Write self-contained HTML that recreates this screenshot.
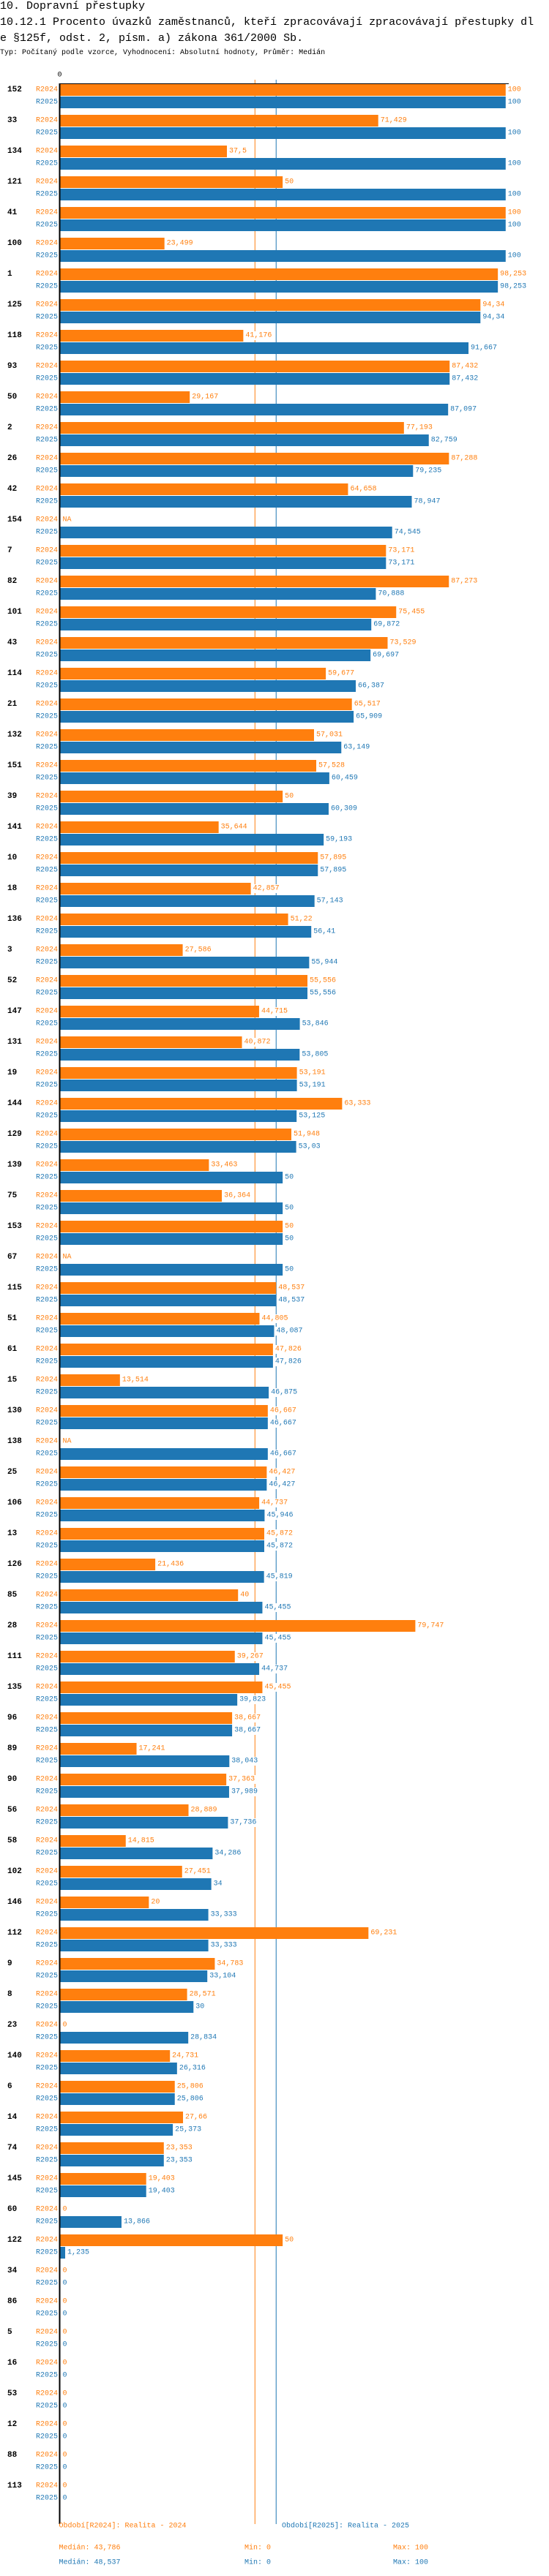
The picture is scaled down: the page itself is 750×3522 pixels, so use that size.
<!DOCTYPE html>
<html><head><meta charset="utf-8">
<style>
html,body{margin:0;padding:0;background:#fff;}
body{width:750px;height:3522px;overflow:hidden;position:relative;font-family:"Liberation Mono",monospace;}
.t{position:absolute;left:0;white-space:nowrap;color:#000;}
svg{position:absolute;left:0;top:0;}
</style></head>
<body>
<div class="t" style="top:0px;font-size:15px;line-height:18px;">10. Dopravní přestupky</div>
<div class="t" style="top:22px;font-size:15px;line-height:18px;">10.12.1 Procento úvazků zaměstnanců, kteří zpracovávají zpracovávají přestupky dl</div>
<div class="t" style="top:44px;font-size:15px;line-height:18px;">e §125f, odst. 2, písm. a) zákona 361/2000 Sb.</div>
<div class="t" style="top:66px;font-size:10px;line-height:14px;">Typ: Počítaný podle vzorce, Vyhodnocení: Absolutní hodnoty, Průměr: Medián</div>
<svg id="chart" width="750" height="3522" xmlns="http://www.w3.org/2000/svg"></svg>
<script>
const categories = ["152","33","134","121","41","100","1","125","118","93","50","2","26","42","154","7","82","101","43","114","21","132","151","39","141","10","18","136","3","52","147","131","19","144","129","139","75","153","67","115","51","61","15","130","138","25","106","13","126","85","28","111","135","96","89","90","56","58","102","146","112","9","8","23","140","6","14","74","145","60","122","34","86","5","16","53","12","88","113"];
const values2024 = [100,71.429,37.5,50,100,23.499,98.253,94.34,41.176,87.432,29.167,77.193,87.288,64.658,null,73.171,87.273,75.455,73.529,59.677,65.517,57.031,57.528,50,35.644,57.895,42.857,51.22,27.586,55.556,44.715,40.872,53.191,63.333,51.948,33.463,36.364,50,null,48.537,44.805,47.826,13.514,46.667,null,46.427,44.737,45.872,21.436,40,79.747,39.267,45.455,38.667,17.241,37.363,28.889,14.815,27.451,20,69.231,34.783,28.571,0,24.731,25.806,27.66,23.353,19.403,0,50,0,0,0,0,0,0,0,0];
const values2025 = [100,100,100,100,100,100,98.253,94.34,91.667,87.432,87.097,82.759,79.235,78.947,74.545,73.171,70.888,69.872,69.697,66.387,65.909,63.149,60.459,60.309,59.193,57.895,57.143,56.41,55.944,55.556,53.846,53.805,53.191,53.125,53.03,50,50,50,50,48.537,48.087,47.826,46.875,46.667,46.667,46.427,45.946,45.872,45.819,45.455,45.455,44.737,39.823,38.667,38.043,37.989,37.736,34.286,34,33.333,33.333,33.104,30,28.834,26.316,25.806,25.373,23.353,19.403,13.866,1.235,0,0,0,0,0,0,0,0];
const seriesNames = ["R2024","R2025"];
const medians = [43.786,48.537];
const mins = [0,0];
const maxs = [100,100];
const legendNames = ["Období[R2024]: Realita - 2024","Období[R2025]: Realita - 2025"];

const NS="http://www.w3.org/2000/svg";
const svg=document.getElementById('chart');
const colors=["#ff7f0e","#1f77b4"];
const X0=81.5, X1=690.8, TOP=115, PITCH=42, BH=16;
const xs=v=>X0+(v/100)*(X1-X0);
const yo=i=>TOP+i*PITCH;
const fmt=v=>v===null?"NA":String(+v.toFixed(3)).replace('.',',');
function mk(tag,attrs,parent){const e=document.createElementNS(NS,tag);for(const k in attrs)e.setAttribute(k,attrs[k]);(parent||svg).appendChild(e);return e;}
function txt(x,y,s,attrs){const e=mk('text',Object.assign({x:x,y:y,'dominant-baseline':'central'},attrs));e.textContent=s;return e;}
const bottom=yo(categories.length-1)+PITCH-9+27;
// median lines
medians.forEach((m,k)=>{
  const l=mk('line',{x1:xs(m),x2:xs(m),y1:109,y2:bottom,stroke:colors[k],'stroke-width':1});
  
  
});
// top axis
const ax=mk('line',{x1:X0,x2:695,y1:114.5,y2:114.5,stroke:'#000','stroke-width':1});


const ay=mk('line',{x1:X0,x2:X0,y1:114,y2:bottom,stroke:'#000','stroke-width':2});


const t0=txt(X0,103,"0",{'font-size':10,'text-anchor':'middle',fill:'#000','font-family':'Liberation Mono, monospace'});


categories.forEach((c,i)=>{
  const g=mk('g',{});
  
  
  const cl=txt(10,yo(i)+BH/2,c,{'font-size':11,'font-weight':'bold',fill:'#000','font-family':'Liberation Mono, monospace'});
  g.appendChild(cl);
  
  
  [values2024[i],values2025[i]].forEach((v,k)=>{
    const y=yo(i)+k*17;
    const sl=txt(79,y+BH/2,seriesNames[k],{'font-size':10,fill:colors[k],'text-anchor':'end','font-family':'Liberation Mono, monospace'});
    g.appendChild(sl);
    
    
    let end=X0+1;
    if(v!==null && v>0){
      const b=mk('rect',{x:X0+1,y:y,width:Math.max(0,xs(v)-X0-1),height:BH,fill:colors[k]},g);
      
      
      end=xs(v);
    }
    const s=fmt(v);
    const bg=mk('rect',{x:end+2,y:y+2,width:s.length*6+2,height:12,fill:'#fff'},g);
    
    
    const vl=txt(end+3,y+BH/2,s,{'font-size':10,fill:colors[k],'font-family':'Liberation Mono, monospace'});
    g.appendChild(vl);
    
    
  });
});
// legend
const lx=[80.5,385];
legendNames.forEach((n,k)=>{
  const e=txt(lx[k],3454,n,{'font-size':10,fill:colors[k],'font-family':'Liberation Mono, monospace'});
  
  
  const y=3484+k*20;
  const a=txt(80.5,y,"Medián: "+fmt(medians[k]),{'font-size':10,fill:colors[k],'font-family':'Liberation Mono, monospace'});
  
  
  const b=txt(334,y,"Min: "+fmt(mins[k]),{'font-size':10,fill:colors[k],'font-family':'Liberation Mono, monospace'});
  
  
  const d=txt(537,y,"Max: "+fmt(maxs[k]),{'font-size':10,fill:colors[k],'font-family':'Liberation Mono, monospace'});
  
  
});
</script>
</body></html>
